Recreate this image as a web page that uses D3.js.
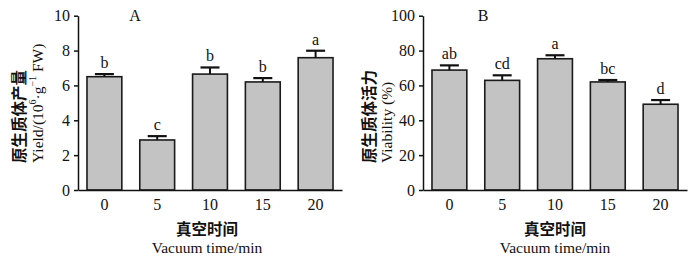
<!DOCTYPE html>
<html><head><meta charset="utf-8">
<script src="https://cdn.jsdelivr.net/npm/d3@7/dist/d3.min.js"></script>
<style>
body{margin:0;background:#fff;}
svg{display:block;}
</style></head>
<body>
<svg id="chart" width="700" height="261"></svg>
<script>
const categories = ["0","5","10","15","20"];
const yieldMean = [6.5, 2.87, 6.65, 6.2, 7.59];
const yieldErr  = [0.15, 0.22, 0.38, 0.22, 0.40];
const yieldLetters = ["b","c","b","b","a"];
const viabMean = [68.8, 62.9, 75.3, 62.0, 49.2];
const viabErr  = [2.7, 2.9, 2.0, 1.1, 2.4];
const viabLetters = ["ab","cd","a","bc","d"];
const yieldTicks = [0,2,4,6,8,10];
const viabTicks = [0,20,40,60,80,100];

const serif = "'Liberation Serif','Times New Roman',serif";
const cjk = "'Noto Sans CJK SC',sans-serif";
const svg = d3.select("#chart");

function panel(opt){
  const g = svg.append("g");
  const x = d3.scaleBand().domain(categories).range([opt.x0, opt.x1]).paddingInner(0.34).paddingOuter(0.17);
  const y = d3.scaleLinear().domain([0, opt.max]).range([190, 15.7]);

  g.selectAll("rect.bar").data(opt.mean).join("rect")
    .attr("x",(d,i)=>x(categories[i]))
    .attr("y",d=>y(d))
    .attr("width",x.bandwidth())
    .attr("height",d=>y(0)-y(d))
    .attr("fill","#c3c3c3").attr("stroke","#1a1a1a").attr("stroke-width",1.6);

  opt.mean.forEach((m,i)=>{
    const cx = x(categories[i]) + x.bandwidth()/2;
    const top = y(m + opt.err[i]);
    g.append("line").attr("x1",cx).attr("x2",cx).attr("y1",y(m)).attr("y2",top)
      .attr("stroke","#111").attr("stroke-width",2);
    g.append("line").attr("x1",cx-9.5).attr("x2",cx+9.5).attr("y1",top).attr("y2",top)
      .attr("stroke","#111").attr("stroke-width",2.2);
    g.append("text").attr("x",cx).attr("y",top-6).attr("text-anchor","middle")
      .attr("font-family",serif).attr("font-size",16).attr("fill","#111").text(opt.letters[i]);
  });

  const ya = g.append("g").attr("transform",`translate(${opt.x0},0)`)
    .call(d3.axisLeft(y).tickValues(opt.ticks).tickSize(4).tickPadding(4).tickSizeOuter(0));
  ya.select(".domain").attr("stroke","#111").attr("stroke-width",1.5);
  ya.selectAll(".tick line").attr("stroke","#111").attr("stroke-width",1.5);
  ya.selectAll(".tick text").attr("font-family",serif).attr("font-size",16).attr("fill","#111");

  const xa = g.append("g").attr("transform","translate(0,190)")
    .call(d3.axisBottom(x).tickSize(0).tickPadding(9).tickSizeOuter(0));
  xa.select(".domain").attr("stroke","#111").attr("stroke-width",1.5);
  xa.selectAll(".tick text").attr("font-family",serif).attr("font-size",16).attr("fill","#111");

  g.append("text").attr("x",opt.letterX).attr("y",21).attr("text-anchor","middle")
    .attr("font-family",serif).attr("font-size",16).attr("fill","#111").text(opt.panel);

  g.append("text").attr("x",opt.titleX).attr("y",228).attr("text-anchor","middle")
    .attr("dominant-baseline","central")
    .attr("font-family",cjk).attr("font-weight","bold").attr("font-size",15.5).attr("fill","#111").text("真空时间");
  g.append("text").attr("x",opt.titleX).attr("y",253).attr("text-anchor","middle")
    .attr("font-family",serif).attr("font-size",15.5).attr("fill","#111").text("Vacuum time/min");

  g.append("text").attr("transform",`translate(${opt.yl1},163) rotate(-90)`)
    .attr("text-anchor","start").attr("dominant-baseline","central")
    .attr("font-family",cjk).attr("font-weight","bold").attr("font-size",15.5).attr("fill","#111").text(opt.ycn);
  const t2 = g.append("text").attr("transform",`translate(${opt.yl2},163) rotate(-90)`)
    .attr("text-anchor","start").attr("dominant-baseline","central")
    .attr("font-family",serif).attr("font-size",15.5).attr("fill","#111");
  opt.yen(t2);
}

panel({x0:78, x1:342, max:10, mean:yieldMean, err:yieldErr, letters:yieldLetters, ticks:yieldTicks,
  panel:"A", letterX:135, titleX:207, yl1:18, yl2:37, ycn:"原生质体产量",
  yen:t=>{
    t.append("tspan").text("Yield/(10");
    t.append("tspan").attr("font-size",10).attr("dy",-5).text("6");
    t.append("tspan").attr("dy",5).text("·g");
    t.append("tspan").attr("font-size",10).attr("dy",-5).text("−1");
    t.append("tspan").attr("dy",5).text(" FW)");
  }});
panel({x0:423, x1:687, max:100, mean:viabMean, err:viabErr, letters:viabLetters, ticks:viabTicks,
  panel:"B", letterX:483, titleX:555, yl1:368, yl2:386, ycn:"原生质体活力",
  yen:t=>{ t.text("Viability (%)"); }});
</script>
</body></html>
